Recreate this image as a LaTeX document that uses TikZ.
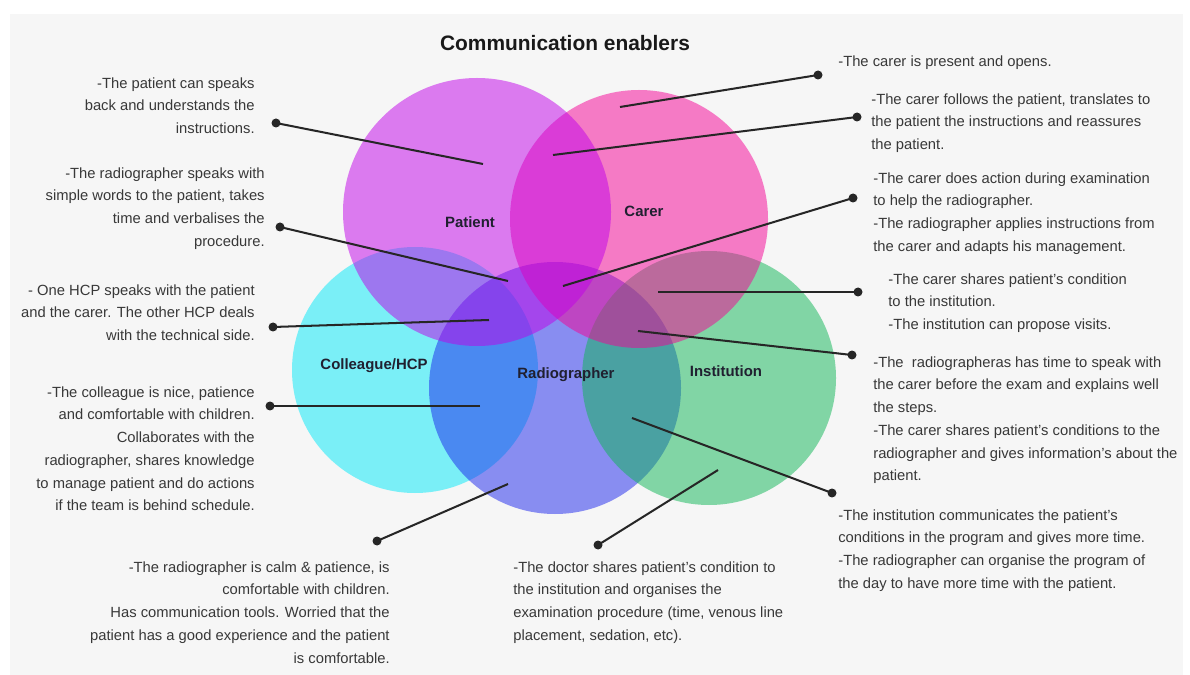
\documentclass[tikz,border=0pt]{standalone}
\usepackage{fontspec}
\setmainfont{Liberation Sans}
\usepackage{xcolor}

\begin{document}
\begin{tikzpicture}[x=0.02cm,y=-0.02cm,
  note/.style={inner sep=0pt,text=notegray,font=\fontsize{8.4}{12.95}\selectfont},
  setname/.style={inner sep=0pt,text=labelink,font=\fontsize{8.5}{10}\selectfont\bfseries},
  enddot/.style={circle,fill=black!85,inner sep=0pt,minimum size=0.18cm},
  link/.style={line width=1.15pt,draw=black!85},
  venn/.style={fill opacity=0.5}]
% Define colours
\definecolor{panelgray}{RGB}{246,246,246}
\definecolor{notegray}{RGB}{56,56,56}
\definecolor{labelink}{RGB}{32,32,48}
\definecolor{patientc}{RGB}{193,0,233}
\definecolor{carerc}{RGB}{245,0,149}
\definecolor{colleaguec}{RGB}{0,233,249}
\definecolor{radioc}{RGB}{27,37,237}
\definecolor{instc}{RGB}{13,181,85}

% Page and grey panel
\useasboundingbox (0,0) rectangle (1190,675);
\fill[white] (0,0) rectangle (1190,675);
\fill[panelgray] (10,14) rectangle (1183,675);

% Draw the five circles
\fill[venn,colleaguec] (415,370) circle (123);
\fill[venn,radioc] (555,388) circle (126);
\fill[venn,instc] (709,378) circle (127);
\fill[venn,carerc] (639,219) circle (129);
\fill[venn,patientc] (477,212) circle (134);

% Title and circle names
\node[font=\fontsize{11.9}{14}\selectfont\bfseries,text=black!90] (title) at (565,43) {Communication enablers};
\node[setname] (patient) at (470,222) {Patient};
\node[setname] (carer) at (644,211) {Carer};
\node[setname] (colleague) at (374,366) {Colleague/HCP};
\node[setname] (radio) at (566,375) {Radiographer};
\node[setname] (inst) at (726,371) {Institution};

% Left notes
\node[note,anchor=north east,align=right] (n1) at (255,77) {-The patient can speaks\\back and understands the\\instructions.};
\node[note,anchor=north east,align=right] (n2) at (265,167) {-The radiographer speaks with\\simple words to the patient, takes\\time and verbalises the\\procedure.};
\node[note,anchor=north east,align=right] (n3) at (255,284) {- One HCP speaks with the patient\\and the carer. The other HCP deals\\with the technical side.};
\node[note,anchor=north east,align=right] (n4) at (255,386) {-The colleague is nice, patience\\and comfortable with children.\\Collaborates with the\\radiographer, shares knowledge\\to manage patient and do actions\\if the team is behind schedule.};

% Bottom notes
\node[note,anchor=north east,align=right] (n5) at (390,561) {-The radiographer is calm \& patience, is\\comfortable with children.\\Has communication tools. Worried that the\\patient has a good experience and the patient\\is comfortable.};
\node[note,anchor=north west,align=left] (n6) at (513,561) {-The doctor shares patient's condition to\\the institution and organises the\\examination procedure (time, venous line\\placement, sedation, etc).};

% Right notes
\node[note,anchor=north west,align=left] (n7) at (838,55) {-The carer is present and opens.};
\node[note,anchor=north west,align=left] (n8) at (871,93) {-The carer follows the patient, translates to\\the patient the instructions and reassures\\the patient.};
\node[note,anchor=north west,align=left] (n9) at (873,172) {-The carer does action during examination\\to help the radiographer.\\-The radiographer applies instructions from\\the carer and adapts his management.};
\node[note,anchor=north west,align=left] (n10) at (888,273) {-The carer shares patient's condition\\to the institution.\\-The institution can propose visits.};
\node[note,anchor=north west,align=left] (n11) at (873,356) {-The\ \ radiographeras has time to speak with\\the carer before the exam and explains well\\the steps.\\-The carer shares patient's conditions to the\\radiographer and gives information's about the\\patient.};
\node[note,anchor=north west,align=left] (n12) at (838,509) {-The institution communicates the patient's\\conditions in the program and gives more time.\\-The radiographer can organise the program of\\the day to have more time with the patient.};

% Pointer ends inside the circles
\coordinate (p1) at (483,164);
\coordinate (p2) at (508,281);
\coordinate (p3) at (489,320);
\coordinate (p4) at (480,406);
\coordinate (p5) at (508,484);
\coordinate (p6) at (718,470);
\coordinate (p7) at (620,107);
\coordinate (p8) at (553,155);
\coordinate (p9) at (563,286);
\coordinate (p10) at (658,292);
\coordinate (p11) at (638,331);
\coordinate (p12) at (632,418);

% Dots next to the notes
\node[enddot] (d1) at (276,123) {};
\node[enddot] (d2) at (280,227) {};
\node[enddot] (d3) at (273,327) {};
\node[enddot] (d4) at (270,406) {};
\node[enddot] (d5) at (377,541) {};
\node[enddot] (d6) at (598,545) {};
\node[enddot] (d7) at (818,75) {};
\node[enddot] (d8) at (857,117) {};
\node[enddot] (d9) at (853,198) {};
\node[enddot] (d10) at (858,292) {};
\node[enddot] (d11) at (852,355) {};
\node[enddot] (d12) at (832,493) {};

% Pointer lines
\draw[link] (p1) -- (d1.center);
\draw[link] (p2) -- (d2.center);
\draw[link] (p3) -- (d3.center);
\draw[link] (p4) -- (d4.center);
\draw[link] (p5) -- (d5.center);
\draw[link] (p6) -- (d6.center);
\draw[link] (p7) -- (d7.center);
\draw[link] (p8) -- (d8.center);
\draw[link] (p9) -- (d9.center);
\draw[link] (p10) -- (d10.center);
\draw[link] (p11) -- (d11.center);
\draw[link] (p12) -- (d12.center);
\end{tikzpicture}
\end{document}
